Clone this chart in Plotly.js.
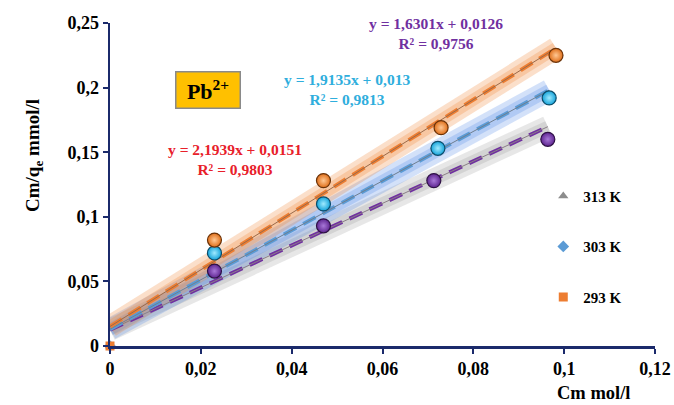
<!DOCTYPE html>
<html><head><meta charset="utf-8">
<script src="https://cdn.plot.ly/plotly-3.0.1.min.js"></script>
<style>body{margin:0;background:#fff}#c{width:674px;height:405px}</style>
</head><body><div id="c"></div>
<script>
// Data
const seriesNames = ['313 K', '303 K', '293 K'];
const x313 = [0.023, 0.047, 0.0713, 0.0964];
const y313 = [0.058, 0.093, 0.128, 0.160];
const x303 = [0.023, 0.047, 0.0722, 0.0967];
const y303 = [0.072, 0.110, 0.153, 0.192];
const x293 = [0.023, 0.047, 0.0729, 0.0982];
const y293 = [0.082, 0.128, 0.169, 0.225];
const slopes = [1.6301, 1.9135, 2.1939];
const intercepts = [0.0126, 0.013, 0.0151];
const r2 = [0.9756, 0.9813, 0.9803];
const originX = [0];
const originY = [0];

const FONT = 'Times New Roman, Liberation Serif, serif';
const sets = [
  {x: x313, y: y313, m: slopes[0], b: intercepts[0], glow: 'rgba(120,120,120,0.18)', dash: '#7030A0', thin: '#8a7f86', ball: '#5E2590', ballHi: '#A878D8', ballLine: '#2e1145', legSym: 'triangle-up', legCol: '#8c8c8c'},
  {x: x303, y: y303, m: slopes[1], b: intercepts[1], glow: 'rgba(70,130,230,0.24)', dash: '#5B9BD5', thin: '#6f7f90', ball: '#14A3DA', ballHi: '#A0EAFF', ballLine: '#0b4d6b', legSym: 'diamond', legCol: '#5B9BD5'},
  {x: x293, y: y293, m: slopes[2], b: intercepts[2], glow: 'rgba(240,130,50,0.26)', dash: '#ED7D31', thin: '#9a6a4a', ball: '#DF6F1A', ballHi: '#FFC894', ballLine: '#6b3208', legSym: 'square', legCol: '#ED7D31'}
];

const traces = [];
// glows
sets.forEach(s => {
  const xe = Math.max(...s.x);
  const lx = [0, xe], ly = lx.map(v => s.m * v + s.b);
  traces.push({x: lx, y: ly, mode: 'lines', line: {color: s.glow, width: 22}, showlegend: false, hoverinfo: 'skip'});
  traces.push({x: lx, y: ly, mode: 'lines', line: {color: s.glow, width: 12}, showlegend: false, hoverinfo: 'skip'});
});
// dashed trendlines + thin lines
sets.forEach(s => {
  const xe = Math.max(...s.x);
  const lx = [0, xe], ly = lx.map(v => s.m * v + s.b);
  traces.push({x: lx, y: ly, mode: 'lines', line: {color: s.dash, width: 4, dash: '14px,8px'}, showlegend: false, hoverinfo: 'skip'});
  traces.push({x: lx, y: ly, mode: 'lines', line: {color: s.thin, width: 1}, showlegend: false, hoverinfo: 'skip'});
});
// sphere markers
sets.forEach(s => {
  traces.push({x: s.x, y: s.y, mode: 'markers', showlegend: false, cliponaxis: false,
    marker: {size: 14, color: s.ball, gradient: {type: 'radial', color: s.ballHi}, line: {color: s.ballLine, width: 1.2}}});
});
// legend entries (origin point)
sets.forEach((s, i) => {
  traces.push({x: originX, y: originY, mode: 'markers', name: '<b>' + seriesNames[i] + '</b>', legendgroup: 'g' + i,
    cliponaxis: false, marker: {symbol: s.legSym, size: 9, color: s.legCol}});
});

const fmt = v => String(v).replace('.', ',');
const annotations = [
  {text: '<b>y = ' + fmt(slopes[0]) + 'x + ' + fmt(intercepts[0]) + '<br>R² = ' + fmt(r2[0]) + '</b>', color: '#7030A0', px: 436, py: 34},
  {text: '<b>y = ' + fmt(slopes[1]) + 'x + ' + fmt(intercepts[1]) + '<br>R² = ' + fmt(r2[1]) + '</b>', color: '#2FAEDD', px: 347, py: 89},
  {text: '<b>y = ' + fmt(slopes[2]) + 'x + ' + fmt(intercepts[2]) + '<br>R² = ' + fmt(r2[2]) + '</b>', color: '#E8202A', px: 235, py: 159}
].map(a => ({xref: 'paper', yref: 'paper', x: (a.px - 110) / 545, y: (346 - a.py) / 323, text: a.text, showarrow: false,
  font: {family: FONT, size: 15.5, color: a.color}, align: 'center', xanchor: 'center', yanchor: 'middle'}));
annotations.push({xref: 'paper', yref: 'paper', x: (207.5 - 110) / 545, y: (346 - 90.5) / 323, text: '<b>Pb<sup>2+</sup></b>', showarrow: false,
  xanchor: 'center', yanchor: 'middle',
  font: {family: FONT, size: 22, color: '#000'}, bgcolor: '#FFC000', bordercolor: '#8a8a8a', borderwidth: 1.5, borderpad: 4, width: 55, height: 27});
annotations.push({xref: 'paper', yref: 'paper', x: (632 - 110) / 545, y: (346 - 393) / 323, text: '<b>Cm mol/l</b>', showarrow: false,
  xanchor: 'right', yanchor: 'middle', font: {family: FONT, size: 18.5, color: '#000'}});
annotations.push({xref: 'paper', yref: 'paper', x: (34 - 110) / 545, y: (346 - 156) / 323, text: '<b>Cm/q<sub>e</sub> mmol/l</b>', showarrow: false,
  textangle: -90, xanchor: 'center', yanchor: 'middle', font: {family: FONT, size: 19, color: '#000'}});

const axisCommon = {showgrid: false, zeroline: false, showline: true, linecolor: '#1B2A6B', linewidth: 2.5,
  ticks: 'outside', ticklen: 5, tickwidth: 2, tickcolor: '#1B2A6B', tickfont: {family: FONT, size: 18, color: '#000', weight: 'bold'}};

const layout = {
  width: 674, height: 405, margin: {l: 110, r: 19, t: 23, b: 59},
  paper_bgcolor: '#fff', plot_bgcolor: '#fff', separators: ', ',
  showlegend: true,
  legend: {x: 0.795, y: 0.515, xanchor: 'left', yanchor: 'top', font: {family: FONT, size: 15, color: '#000'},
    tracegroupgap: 28, traceorder: 'grouped', itemwidth: 30},
  xaxis: Object.assign({}, axisCommon, {range: [0, 0.12], dtick: 0.02, tick0: 0}),
  yaxis: Object.assign({}, axisCommon, {range: [0, 0.25], dtick: 0.05, tick0: 0}),
  annotations: annotations
};
Plotly.newPlot('c', traces, layout, {displayModeBar: false, staticPlot: true});
</script>
</body></html>
